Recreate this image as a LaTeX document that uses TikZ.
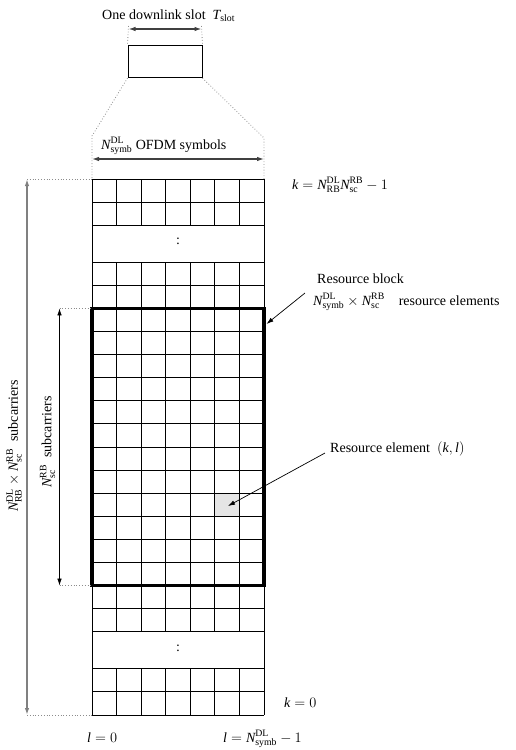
\documentclass[tikz,border=0pt]{standalone}
\usepackage{fontspec}
\setmainfont{Liberation Serif}
\usetikzlibrary{arrows.meta}
\newcommand{\Nv}[2]{\mathit{N}^{\mathrm{#1}}_{\mathrm{#2}}}
\tikzset{
  txt/.style={inner sep=0pt, anchor=base west, font=\fontsize{14}{16}\selectfont},
  rtxt/.style={inner sep=0pt, anchor=center, rotate=90, font=\fontsize{14}{16}\selectfont},
  gridline/.style={line width=1pt, black},
  thickbox/.style={line width=3.6pt, black},
  tip/.style={-{Latex[length=7pt,width=4.5pt]}, line width=0.7pt, black},
  dbl/.style={{Latex[length=7pt,width=4.5pt]}-{Latex[length=7pt,width=4.5pt]}, line width=1.2pt, black!75},
  dblgray/.style={{Latex[length=7pt,width=4.5pt]}-{Latex[length=7pt,width=4.5pt]}, line width=1.4pt, black!50},
  dblthin/.style={{Latex[length=7pt,width=4.5pt]}-{Latex[length=7pt,width=4.5pt]}, line width=0.7pt, black},
  dots/.style={dotted, black!45, line width=0.8pt}
}
\begin{document}
\begin{tikzpicture}[x=1pt,y=-1pt]
\useasboundingbox (0,0) rectangle (515,750);
% geometry
\def\xl{92}\def\xr{264}\def\cw{24.5714}\def\rh{23.1}
\def\yA{179}\def\yAe{225.2}\def\yB{262.2}\def\yBe{585.6}\def\yC{585.6}\def\yCe{631.8}\def\yD{668.8}\def\yDe{715}
\def\yK{308.4}
% shaded resource element
\fill[black!10] (\xl+5*\cw,\yK+8*\rh) rectangle (\xl+6*\cw,\yK+9*\rh);
% grid groups
\foreach \ys/\n in {\yA/2,\yB/14,\yC/2,\yD/2}{
  \foreach \i in {0,...,\n}{ \draw[gridline] (\xl,\ys+\i*\rh) -- (\xr,\ys+\i*\rh); }
  \foreach \j in {1,...,6}{ \draw[gridline] (\xl+\j*\cw,\ys) -- (\xl+\j*\cw,\ys+\n*\rh); }
}
\draw[gridline] (\xl,\yA) -- (\xl,\yDe);
\draw[gridline] (\xr,\yA) -- (\xr,\yDe);
% ellipses
\node[font=\fontsize{14}{16}\selectfont, inner sep=0pt] (e1) at (178,241) {:};
\node[font=\fontsize{14}{16}\selectfont, inner sep=0pt] (e2) at (178,648) {:};
% resource block
\draw[thickbox] (\xl,\yK) rectangle (\xr,\yBe);
% top slot
\node[draw, line width=1pt, minimum width=74pt, minimum height=32.5pt, inner sep=0pt] (slot) at (165,61.3) {};
\coordinate (ta1) at (128.5,29);
\coordinate (ta2) at (201.5,29);
\draw[dots] (128.5,26) -- (slot.north west);
\draw[dots] (201.5,26) -- (slot.north east);
\draw[dbl] (ta1) -- (ta2);
\node[txt] (slottxt) at (102,19) {One downlink slot\enspace$\mathit{T}_{\mathrm{slot}}$};
% zoom lines
\coordinate (zl) at (\xl,136);
\coordinate (zr) at (\xr,138);
\coordinate (gtl) at (\xl,\yA);
\coordinate (gtr) at (\xr,\yA);
\draw[dots] (slot.south west) -- (zl) -- (gtl);
\draw[dots] (slot.south east) -- (zr) -- (gtr);
\coordinate (sa1) at (\xl,159);
\coordinate (sa2) at (\xr,159);
\draw[dbl] (sa1) -- (sa2);
\node[txt] (symtxt) at (101,149) {$\Nv{DL}{symb}$ OFDM symbols};
% left arrows
\coordinate (b1) at (27,\yA);
\coordinate (b2) at (27,\yDe);
\coordinate (gbl) at (\xl,\yDe);
\draw[dots] (b1) -- (gtl);
\draw[dots] (b2) -- (gbl);
\draw[dblgray] (b1) -- (b2);
\node[rtxt] (bigtxt) at (14,446) {$\Nv{DL}{RB}\times\Nv{RB}{sc}$\enspace subcarriers};
\coordinate (i1) at (59.5,\yK);
\coordinate (i2) at (59.5,\yBe);
\coordinate (kt) at (\xl,\yK);
\coordinate (kb) at (\xl,\yBe);
\draw[dots] (i1) -- (kt);
\draw[dots] (i2) -- (kb);
\draw[dblthin] (i1) -- (i2);
\node[rtxt] (smalltxt) at (47.5,442) {$\Nv{RB}{sc}$\enspace subcarriers};
% right labels
\node[txt] (ktop) at (292,189) {$\mathit{k}=\Nv{DL}{RB}\Nv{RB}{sc}-1$};
\node[txt] (rb1) at (317,283) {Resource block};
\node[txt] (rb2) at (313,305) {$\Nv{DL}{symb}\times\Nv{RB}{sc}$\quad resource elements};
\coordinate (rbs) at (305,293);
\coordinate (rbe) at (266.5,324);
\draw[tip] (rbs) -- (rbe);
\node[txt] (re) at (330,452) {Resource element\enspace$(\mathit{k},\mathit{l})$};
\coordinate (res) at (325,453);
\coordinate (ree) at (228,506);
\draw[tip] (res) -- (ree);
\node[txt] (k0) at (284,707) {$\mathit{k}=0$};
\node[txt] (l0) at (87,742) {$\mathit{l}=0$};
\node[txt] (lN) at (223,742) {$\mathit{l}=\Nv{DL}{symb}-1$};
\end{tikzpicture}
\end{document}
